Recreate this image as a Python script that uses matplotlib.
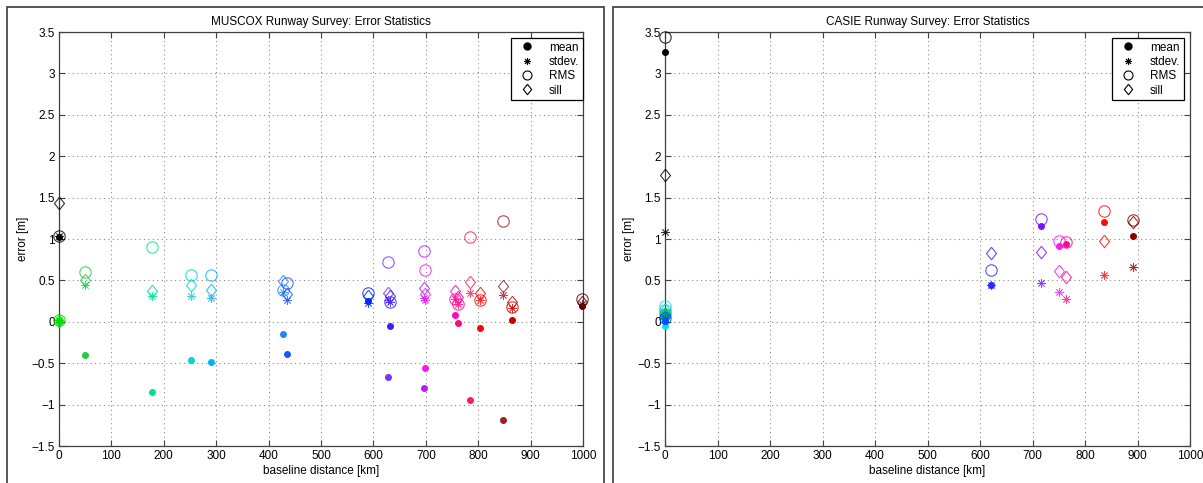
import matplotlib
matplotlib.use("Agg")
import matplotlib.pyplot as plt
from matplotlib.lines import Line2D
from matplotlib.patches import Rectangle
from matplotlib.ticker import FuncFormatter

plt.rcParams["font.family"] = ["Liberation Sans", "DejaVu Sans"]
plt.rcParams["font.size"] = 8

# MUSCOX survey: one entry per station
muscox_dist = [0, 0, 49, 178, 251, 290, 427, 436, 590, 627, 632, 697, 699,
               755, 762, 785, 803, 847, 865, 998]
muscox_mean = [1.03, 0.01, -0.40, -0.85, -0.46, -0.48, -0.15, -0.39, 0.25, -0.67,
               -0.055, -0.80, -0.56, 0.08, -0.015, -0.95, -0.07, -1.18, 0.02, 0.19]
muscox_std = [1.04, 0.02, 0.44, 0.31, 0.31, 0.29, 0.36, 0.26, 0.23, 0.26,
              0.24, 0.29, 0.26, 0.27, 0.21, 0.35, 0.26, 0.32, 0.17, 0.22]
muscox_rms = [1.04, 0.02, 0.60, 0.90, 0.56, 0.56, 0.38, 0.47, 0.35, 0.72,
              0.24, 0.85, 0.62, 0.28, 0.21, 1.02, 0.26, 1.22, 0.175, 0.27]
muscox_sill = [1.44, 0.01, 0.50, 0.37, 0.44, 0.38, 0.49, 0.34, 0.31, 0.35,
               0.31, 0.41, 0.33, 0.37, 0.30, 0.48, 0.35, 0.43, 0.24, 0.24]
muscox_colors = ["#000000", "#00dd00", "#22cc44", "#00e08c", "#00d4e0", "#00b4f4",
                 "#1e84ff", "#1456ff", "#0028ff", "#7a32ff", "#3a1eff", "#b41eff",
                 "#ff14f0", "#ff0ab4", "#ff0a82", "#ff1e50", "#f00a0a", "#962323",
                 "#c80000", "#640000"]

# CASIE survey
casie_dist = [0, 0, 0, 0, 0, 620, 717, 750, 764, 837, 891]
casie_mean = [3.26, -0.05, 0.05, 0.06, 0.01, 0.44, 1.16, 0.91, 0.935, 1.21, 1.04]
casie_std = [1.08, 0.12, 0.10, 0.05, 0.04, 0.44, 0.47, 0.36, 0.27, 0.57, 0.66]
casie_rms = [3.44, 0.19, 0.14, 0.09, 0.05, 0.62, 1.245, 0.975, 0.96, 1.34, 1.23]
casie_sill = [1.77, 0.14, 0.10, 0.08, 0.06, 0.83, 0.84, 0.61, 0.545, 0.98, 1.20]
casie_colors = ["#000000", "#00e5ff", "#00c8c8", "#00b432", "#0050ff", "#2828ff",
                "#7814ff", "#ff14ff", "#ff0a8c", "#ff0a0a", "#8c0000"]

legend_labels = ["mean", "stdev.", "RMS", "sill"]

diamond = [(0, 1), (0.8, 0), (0, -1), (-0.8, 0), (0, 1)]
asterisk = (8, 2, 0)

fig = plt.figure(figsize=(12.03, 4.83), dpi=100)

# window frames around the two figures
for x0, w in [(7, 597), (613, 600)]:
    fig.add_artist(Rectangle((x0 / 1203, -0.1), w / 1203, 1.1 - 7 / 483,
                             transform=fig.transFigure, fill=False,
                             edgecolor="#3a3a3a", linewidth=1.2))


def minus_fmt(v, pos):
    return ("%g" % v).replace("-", "\u2212")


def survey_panel(ax, title, dist, mean, std, rms, sill, colors, leg_x):
    for i in range(len(dist)):
        c = colors[i]
        ax.plot(dist[i], mean[i], "o", color=c, markersize=4, clip_on=False, zorder=3)
        ax.plot(dist[i], std[i], marker=asterisk, color=c, markersize=6,
                markeredgewidth=0.6, clip_on=False, zorder=3, alpha=0.8)
        ax.plot(dist[i], rms[i], "o", markerfacecolor="none", markeredgecolor=c,
                markersize=8.2, markeredgewidth=0.8, clip_on=False, zorder=3, alpha=0.8)
        ax.plot(dist[i], sill[i], marker=diamond, markerfacecolor="none",
                markeredgecolor=c, markersize=9, markeredgewidth=0.8,
                clip_on=False, zorder=3, alpha=0.8)

    ax.set_xlim(0, 1000)
    ax.set_ylim(-1.5, 3.5)
    ax.set_xticks(range(0, 1001, 100))
    ax.set_yticks([-1.5, -1, -0.5, 0, 0.5, 1, 1.5, 2, 2.5, 3, 3.5])
    ax.yaxis.set_major_formatter(FuncFormatter(minus_fmt))
    ax.tick_params(direction="in", top=True, right=True, length=4, width=0.8,
                   color="#404040", labelsize=8.5, pad=3)
    ax.grid(True, linestyle=(0, (1, 3)), color="0.55", linewidth=0.8)
    for s in ax.spines.values():
        s.set_color("#404040")
        s.set_linewidth(0.9)
    ax.set_title(title, fontsize=8.5, pad=5)
    ax.set_xlabel("baseline distance [km]", fontsize=8.5, labelpad=2)
    ax.set_ylabel("error [m]", fontsize=8.5, labelpad=2)

    handles = [
        Line2D([], [], linestyle="none", marker="o", color="k", markersize=5),
        Line2D([], [], linestyle="none", marker=asterisk, color="k", markersize=5,
               markeredgewidth=0.7),
        Line2D([], [], linestyle="none", marker="o", markerfacecolor="none",
               markeredgecolor="k", markersize=6.5, markeredgewidth=0.8),
        Line2D([], [], linestyle="none", marker=diamond, markerfacecolor="none",
               markeredgecolor="k", markersize=7.5, markeredgewidth=0.8),
    ]
    leg = ax.legend(handles, legend_labels, loc="upper right",
                    bbox_to_anchor=(leg_x, 0.9855), borderaxespad=0,
                    fancybox=False, framealpha=1, edgecolor="k", fontsize=8.5,
                    handlelength=2.0, handletextpad=0.9, labelspacing=0.2,
                    borderpad=0.3)
    leg.get_frame().set_linewidth(0.9)


ax1 = fig.add_axes([0.04904, 0.07660, 0.4356, 0.85714])
survey_panel(ax1, "MUSCOX Runway Survey: Error Statistics", muscox_dist, muscox_mean,
             muscox_std, muscox_rms, muscox_sill, muscox_colors, 1.0)

ax2 = fig.add_axes([0.5528, 0.07660, 0.4364, 0.85714])
survey_panel(ax2, "CASIE Runway Survey: Error Statistics", casie_dist, casie_mean,
             casie_std, casie_rms, casie_sill, casie_colors, 0.9886)

fig.savefig("out.png", dpi=100)
